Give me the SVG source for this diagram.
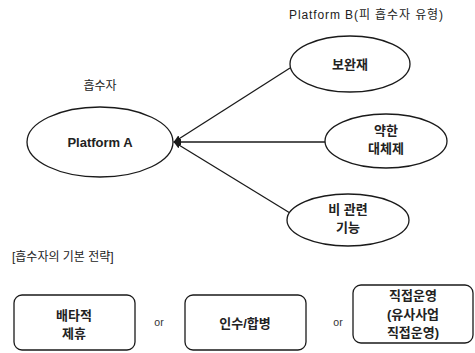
<svg xmlns="http://www.w3.org/2000/svg" width="475" height="353" viewBox="0 0 475 353">
  <style>
    .shape { fill: #ffffff; stroke: #1a1a1a; stroke-width: 1.3; }
    .edge { stroke: #1a1a1a; stroke-width: 1.3; fill: none; }
    .label { font-family: "Liberation Sans", "Noto Sans CJK KR", sans-serif; font-size: 13px; font-weight: bold; fill: #222; text-anchor: middle; }
    .caption { font-family: "Liberation Sans", "Noto Sans CJK KR", sans-serif; font-size: 12px; fill: #222; }
    .or { font-family: "Liberation Sans", sans-serif; font-size: 10.5px; fill: #333; text-anchor: middle; }
  </style>
  <defs>
    <marker id="head" viewBox="0 0 10 10" refX="9" refY="5" markerWidth="6" markerHeight="6" orient="auto-start-reverse">
      <path d="M0,1 L10,5 L0,9 z" fill="#1a1a1a"/>
    </marker>
  </defs>
  <rect width="475" height="353" fill="#ffffff"/>

  <!-- headings -->
  <text class="caption" x="289" y="19" font-size="12.5" letter-spacing="0.9">Platform B(피 흡수자 유형)</text>
  <text class="caption" x="100" y="90" text-anchor="middle">흡수자</text>
  <text class="caption" x="12" y="261" font-size="12.5">[흡수자의 기본 전략]</text>

  <!-- connectors -->
  <g id="connectors">
    <line class="edge" x1="290" y1="68" x2="174" y2="142" marker-end="url(#head)"/>
    <line class="edge" x1="325" y1="142" x2="174" y2="142" marker-end="url(#head)"/>
    <line class="edge" x1="290" y1="213" x2="174" y2="142" marker-end="url(#head)"/>
  </g>

  <g id="platform-a">
    <ellipse class="shape" cx="100" cy="142" rx="73" ry="35"/>
    <text class="label" x="100" y="147" font-size="15">Platform A</text>
  </g>

  <g id="complement">
    <ellipse class="shape" cx="350" cy="64" rx="60" ry="28"/>
    <text class="label" x="350" y="69" font-size="14">보완재</text>
  </g>

  <g id="weak-substitute">
    <ellipse class="shape" cx="386" cy="141" rx="61" ry="27"/>
    <text class="label" x="386" y="135">약한</text>
    <text class="label" x="386" y="153">대체제</text>
  </g>

  <g id="unrelated">
    <ellipse class="shape" cx="348" cy="220" rx="61" ry="26"/>
    <text class="label" x="348" y="214">비 관련</text>
    <text class="label" x="348" y="232">기능</text>
  </g>

  <!-- strategy boxes -->
  <g id="exclusive-alliance">
    <rect class="shape" x="14" y="295" width="121" height="55" rx="8"/>
    <text class="label" x="74" y="320">배타적</text>
    <text class="label" x="74" y="338">제휴</text>
  </g>

  <text class="or" x="159" y="326">or</text>

  <g id="acquisition">
    <rect class="shape" x="185" y="295" width="121" height="55" rx="8"/>
    <text class="label" x="245" y="328">인수/합병</text>
  </g>

  <text class="or" x="338" y="326">or</text>

  <g id="direct-operation">
    <rect class="shape" x="353" y="285" width="120" height="58" rx="8"/>
    <text class="label" x="413" y="300">직접운영</text>
    <text class="label" x="413" y="319">(유사사업</text>
    <text class="label" x="413" y="337">직접운영)</text>
  </g>
</svg>
